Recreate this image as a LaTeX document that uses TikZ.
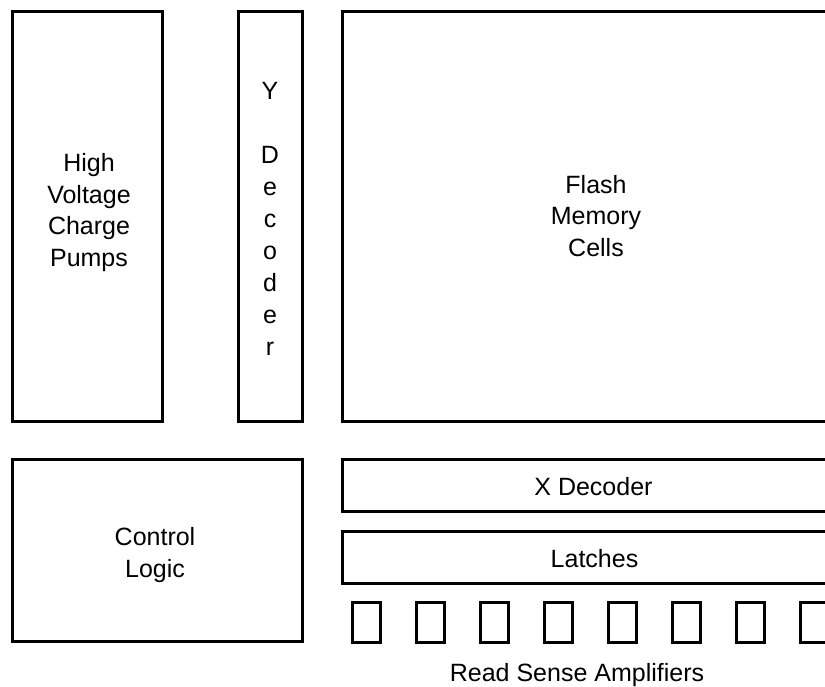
\documentclass[tikz,border=0pt]{standalone}
\usepackage{fontspec}
\setmainfont{Liberation Sans}
\begin{document}
\begin{tikzpicture}[x=1pt,y=-1pt,
  blk/.style={draw=black, line width=3pt},
  lbl/.style={font=\fontsize{25}{31.5}\selectfont, align=center, inner sep=0pt, anchor=base}]
\useasboundingbox (0,0) rectangle (825,686);
\fill[white] (0,0) rectangle (825,686);
\begin{scope}
\clip (0,0) rectangle (825,686);
% upper blocks
\draw[blk] (12.5,11.5) rectangle (162,421);
\draw[blk] (238.5,11.5) rectangle (302,421);
\draw[blk] (342.5,11.5) rectangle (851,421);
% lower blocks
\draw[blk] (12.5,459.5) rectangle (302,641);
\draw[blk] (342.5,459.5) rectangle (851,511.5);
\draw[blk] (342.5,531.5) rectangle (851,583);
% sense amplifiers
\foreach \i in {0,...,7}
  \draw[blk] ({352.5+64*\i},602) rectangle ({380+64*\i},642);
\end{scope}
% anchor=base of a multi-line node is the baseline of its last line
\node[lbl] (hv) at (89,266) {High\\Voltage\\Charge\\Pumps};
\node[lbl, font=\fontsize{25}{32}\selectfont] (yd) at (270,355) {Y\\\mbox{}\\D\\e\\c\\o\\d\\e\\r};
\node[lbl] (fm) at (596,256) {Flash\\Memory\\Cells};
\node[lbl] (cl) at (155,577) {Control\\Logic};
\node[lbl] (xd) at (593.5,495) {X Decoder};
\node[lbl] (la) at (594.5,567) {Latches};
\node[lbl] (rs) at (577,681) {Read Sense Amplifiers};
\end{tikzpicture}
\end{document}
